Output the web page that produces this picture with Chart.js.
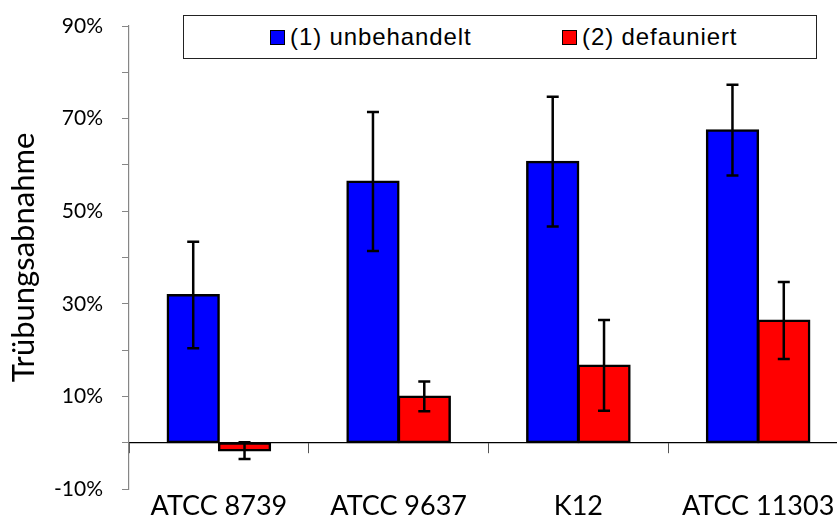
<!DOCTYPE html>
<html>
<head>
<meta charset="utf-8">
<script src="https://cdn.jsdelivr.net/npm/chart.js@4.4.1/dist/chart.umd.min.js"></script>
<style>
  html, body { margin: 0; padding: 0; background: #fff; }
  #wrap { position: relative; width: 837px; height: 516px; overflow: hidden; }
  #myChart { position: absolute; left: 0; top: 0; }
  #legend {
    position: absolute; left: 183px; top: 15px; width: 634px; height: 44px;
    border: 1px solid #222; background: #fff; box-sizing: border-box;
    font-family: "Liberation Sans", Arial, sans-serif; font-size: 24px; letter-spacing: 0.9px; color: #000;
  }
  .item { position: absolute; top: 0; height: 42px; line-height: 42px; white-space: nowrap; }
  .sw { position: absolute; top: 14px; width: 15px; height: 15px; border: 1.5px solid #000; box-sizing: border-box; }
  .tx { position: absolute; left: 20px; top: 0; }
</style>
</head>
<body>
<div id="wrap">
  <canvas id="myChart" width="870" height="516"></canvas>
  <div id="legend"></div>
</div>
<script>
// strains (categories)
const strains = ['ATCC 8739', 'ATCC 9637', 'K12', 'ATCC 11303'];

// turbidity decrease in %
const untreated = [31.9, 56.4, 60.7, 67.5];
const untreatedErr = [11.5, 15.0, 14.0, 9.8];
const defaunated = [-1.7, 10.0, 16.7, 26.4];
const defaunatedErr = [1.8, 3.2, 9.8, 8.3];

const seriesNames = ['(1) unbehandelt', '(2) defauniert'];
const seriesColors = ['#0000FF', '#FF0000'];
const errors = [untreatedErr, defaunatedErr];

// y axis: ticks every 10, labels only on -10, 10, 30 ...
const yMin = -10, yMax = 90, yStep = 10;

// legend in a box, like the original
const legendX = [86, 378];
const legendEl = document.getElementById('legend');
seriesNames.forEach((name, i) => {
    const it = document.createElement('div');
    it.className = 'item';
    it.style.left = legendX[i] + 'px';
    it.innerHTML = '<span class="sw" style="background:' + seriesColors[i] + '"></span><span class="tx">' + name + '</span>';
    legendEl.appendChild(it);
});

// error bars drawn with the chart's own scales
const errorBars = {
    id: 'errorBars',
    afterDatasetsDraw(chart) {
        const ctx = chart.ctx;
        const y = chart.scales.y;
        ctx.save();
        ctx.strokeStyle = '#000';
        ctx.lineWidth = 2.5;
        chart.data.datasets.forEach((ds, i) => {
            chart.getDatasetMeta(i).data.forEach((bar, j) => {
                const v = ds.data[j], e = errors[i][j];
                const top = y.getPixelForValue(v + e);
                const bot = y.getPixelForValue(v - e);
                ctx.beginPath();
                ctx.moveTo(bar.x, top); ctx.lineTo(bar.x, bot);
                ctx.moveTo(bar.x - 6, top); ctx.lineTo(bar.x + 6, top);
                ctx.moveTo(bar.x - 6, bot); ctx.lineTo(bar.x + 6, bot);
                ctx.stroke();
            });
        });
        ctx.restore();
    }
};

Chart.defaults.color = '#000';
Chart.defaults.font.family = 'Lato, "Open Sans", sans-serif';

const barStyle = {
    borderColor: '#000',
    borderWidth: 2.5,
    borderSkipped: false,
    inflateAmount: 1,
    categoryPercentage: 0.571,
    barPercentage: 1.0,
    xAxisID: 'x'
};

const ctx = document.getElementById('myChart').getContext('2d');
const myChart = new Chart(ctx, {
    type: 'bar',
    data: {
        labels: strains,
        datasets: [
            Object.assign({ label: seriesNames[0], data: untreated, backgroundColor: seriesColors[0] }, barStyle),
            Object.assign({ label: seriesNames[1], data: defaunated, backgroundColor: seriesColors[1] }, barStyle)
        ]
    },
    options: {
        responsive: false,
        animation: false,
        layout: { padding: { left: 0, right: 22, top: 26, bottom: 0 } },
        plugins: {
            legend: { display: false },
            tooltip: { enabled: false }
        },
        scales: {
            x: {
                type: 'category',
                position: { y: 0 },
                offset: true,
                grid: { offset: true, drawOnChartArea: false, drawTicks: true, tickLength: 10, color: '#555', lineWidth: 1 },
                border: { display: true, color: '#000', width: 1.2 },
                ticks: { display: false }
            },
            x2: {
                type: 'category',
                position: 'bottom',
                offset: true,
                grid: { display: false, drawTicks: false },
                border: { display: false },
                ticks: { padding: 1, font: { size: 27 }, maxRotation: 0 },
                afterFit(scale) { scale.height = 27; }
            },
            y: {
                min: yMin,
                max: yMax,
                grid: { drawOnChartArea: false, drawTicks: true, tickLength: 7, color: '#868686' },
                border: { display: true, color: '#868686', width: 1.2 },
                ticks: {
                    stepSize: yStep,
                    padding: 19,
                    font: { size: 21 },
                    callback: v => (Math.abs(v) % 20 === 10) ? v + '%' : ''
                },
                title: {
                    display: true,
                    text: 'Trübungsabnahme',
                    font: { size: 31 },
                    padding: { top: 5, bottom: 0 }
                },
                afterFit(scale) {
                    scale.width = 129;
                    scale.paddingTop = 0;
                    scale.paddingBottom = 0;
                }
            }
        }
    },
    plugins: [errorBars]
});
</script>
</body>
</html>
